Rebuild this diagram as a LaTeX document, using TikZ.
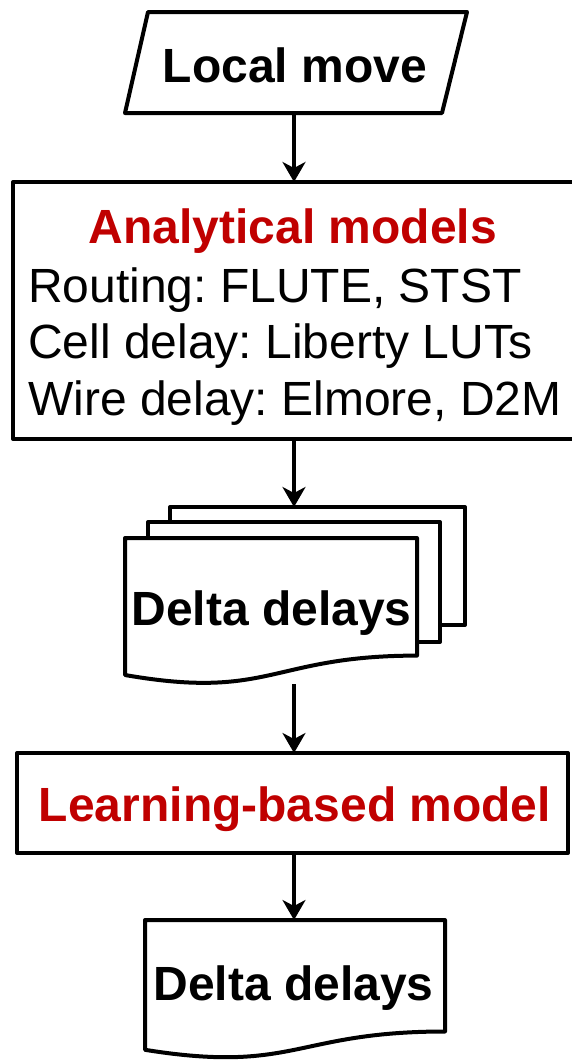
\documentclass[tikz,border=0pt]{standalone}
\usepackage{fontspec}
\setmainfont{Liberation Sans}
\usetikzlibrary{arrows.meta}
\definecolor{titlered}{RGB}{192,0,0}
\frenchspacing
\begin{document}
\begin{tikzpicture}[x=1pt,y=-1pt,
  shapeline/.style={draw=black, line width=4pt, line join=round, fill=white},
  flow/.style={line width=3.3pt, -{Stealth[length=20pt,width=23pt,inset=6pt]}},
  bigtext/.style={font=\fontsize{48}{56}\selectfont, inner sep=0pt, anchor=base},
  bigbold/.style={bigtext, font=\fontsize{48}{56}\selectfont\bfseries},
  bigline/.style={bigtext, anchor=base west}]
\useasboundingbox (0,0) rectangle (572,1063);

% input: local move (parallelogram)
\draw[shapeline] (148,12) -- (467,12) -- (442,113) -- (125,113) -- cycle;
\coordinate (moveB) at (294,113);
\node[bigbold] (move) at (295,82) {Local move};

% analytical models box (runs off the right edge)
\draw[shapeline] (13,182) rectangle (590,439);
\coordinate (anaT) at (294,182);
\coordinate (anaB) at (294,439);
\node[bigbold, text=titlered] (anatitle) at (293,243) {Analytical models};
\node[bigline] (routing) at (28,302) {Routing: FLUTE, STST};
\node[bigline] (celldelay) at (28,358) {Cell delay: Liberty LUTs};
\node[bigline] (wiredelay) at (28,415) {Wire delay: Elmore, D2M};

% stacked documents: delta delays
\draw[shapeline] (170,507) rectangle (465,625);
\draw[shapeline] (148,522) rectangle (440,642);
\draw[shapeline] (125,538) -- (417,538) -- (417,655.6)
  .. controls (271,655.6) and (271,700.5) .. (125,675) -- cycle;
\coordinate (stackT) at (294,507);
\coordinate (stackB) at (294,684);
\node[bigbold] (delta1) at (271.5,625) {Delta delays};

% learning-based model box
\draw[shapeline] (17,753) rectangle (568,853);
\coordinate (learnT) at (294,753);
\coordinate (learnB) at (294,853);
\node[bigbold, text=titlered] (learn) at (295,821) {Learning-based model};

% output document: delta delays
\draw[shapeline] (145,920) -- (445,920) -- (445,1031.5)
  .. controls (295,1031.5) and (295,1073.9) .. (145,1049.8) -- cycle;
\coordinate (outT) at (294,920);
\node[bigbold] (delta2) at (293.5,1000) {Delta delays};

% connectors
\draw[flow] (moveB) -- (anaT);
\draw[flow] (anaB) -- (stackT);
\draw[flow] (stackB) -- (learnT);
\draw[flow] (learnB) -- (outT);
\end{tikzpicture}
\end{document}
